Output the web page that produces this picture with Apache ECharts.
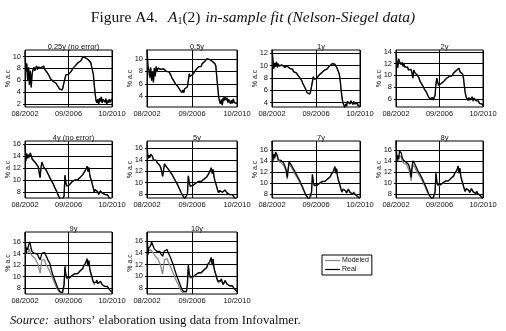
<!DOCTYPE html>
<html>
<head>
<meta charset="utf-8">
<script src="https://cdn.jsdelivr.net/npm/echarts@6/dist/echarts.min.js"></script>
<style>
html,body{margin:0;padding:0;background:#fff;}
#main{width:506px;height:331px;}
</style>
</head>
<body>
<div id="main"></div>
<script>
// monthly observations, 08/2002 .. 10/2010 (99 months)
var xTicks = [0, 49, 98];
var xTickLabels = ['08/2002', '09/2006', '10/2010'];

var panelTitles = ['0.25y (no error)', '0.5y', '1y', '2y', '4y (no error)', '5y', '7y', '8y', '9y', '10y'];
var yMins = [1.5, 2.3, 3.3, 4.6, 7.0, 7.3, 7.3, 7.3, 7.0, 7.0];
var yMaxs = [11.1, 11.4, 12.5, 14.3, 16.5, 17.3, 17.6, 17.6, 17.7, 17.5];
var yTicks = [
    [2, 4, 6, 8, 10], [4, 6, 8, 10], [4, 6, 8, 10, 12], [6, 8, 10, 12, 14],
    [8, 10, 12, 14, 16], [8, 10, 12, 14, 16], [8, 10, 12, 14, 16], [8, 10, 12, 14, 16],
    [8, 10, 12, 14, 16], [8, 10, 12, 14, 16]
];

var real025 = [10.8, 7.5, 8.8, 6.0, 8.2, 5.2, 7.6, 4.8, 7.0, 7.8,
    8.2, 7.6, 8.0, 8.4, 7.8, 8.2, 8.0, 8.5, 8.1, 8.3,
    8.0, 8.4, 7.9, 7.6, 7.8, 7.3, 7.0, 6.8, 6.5, 6.2,
    6.3, 6.0, 5.8, 5.9, 5.6, 5.5, 5.4, 5.0, 4.8, 4.5,
    4.2, 4.7, 4.4, 5.0, 5.1, 5.3, 6.9, 6.8, 7.2, 7.0,
    7.3, 7.1, 7.5, 7.8, 8.0, 8.2, 8.0, 8.5, 8.8, 8.6,
    9.0, 9.1, 8.9, 9.3, 9.6, 9.9, 9.7, 10.0, 9.8, 9.6,
    9.8, 9.5, 9.3, 9.4, 9.0, 8.8, 8.7, 7.0, 5.2, 3.8,
    2.6, 2.2, 2.8, 2.0, 3.0, 2.4, 3.2, 2.2, 2.8, 3.1,
    2.3, 2.9, 2.0, 2.6, 2.2, 2.8, 2.3, 2.6, 2.9];
var real05 = [11.5, 9.0, 8.2, 7.0, 8.6, 6.5, 8.0, 6.2, 8.5, 7.2,
    8.8, 8.0, 8.5, 8.2, 8.7, 8.3, 8.6, 8.2, 8.4, 8.1,
    8.3, 8.0, 8.2, 7.8, 7.9, 7.6, 7.4, 7.0, 6.8, 6.5,
    6.3, 6.0, 6.0, 5.8, 5.5, 5.3, 5.0, 4.8, 4.6, 5.0,
    4.6, 5.2, 5.0, 5.4, 5.5, 5.6, 7.6, 7.2, 7.5, 7.3,
    7.5, 7.4, 7.8, 8.2, 8.5, 8.4, 8.7, 8.9, 9.0, 8.8,
    9.2, 9.4, 9.2, 9.6, 9.9, 10.0, 9.8, 10.1, 9.9, 9.7,
    9.8, 9.6, 9.4, 9.5, 9.2, 8.8, 7.0, 5.5, 4.0, 3.2,
    2.8, 3.5, 2.6, 3.8, 3.3, 4.0, 3.4, 3.8, 3.0, 3.5,
    3.2, 2.8, 3.4, 2.9, 3.6, 3.0, 2.7, 3.2, 2.9];
var real1 = [12.6, 11.0, 9.5, 10.4, 9.8, 10.6, 9.7, 10.3, 9.9, 10.2,
    9.6, 10.1, 9.8, 10.2, 9.7, 10.0, 9.6, 9.9, 9.7, 9.8,
    9.5, 9.8, 9.3, 9.4, 9.0, 9.1, 8.7, 8.8, 8.5, 8.4,
    8.2, 8.0, 7.8, 7.6, 7.2, 7.0, 6.6, 6.3, 6.0, 5.6,
    5.3, 5.6, 5.4, 5.8, 5.7, 6.0, 8.2, 7.8, 8.0, 7.7,
    7.9, 8.1, 8.4, 8.3, 8.6, 8.8, 8.7, 9.0, 9.2, 9.1,
    9.3, 9.4, 9.6, 9.5, 9.9, 10.1, 10.0, 10.3, 10.2, 10.4,
    10.2, 10.0, 9.7, 9.5, 9.0, 8.6, 7.5, 6.0, 4.8, 4.0,
    3.6, 3.2, 3.8, 3.4, 4.2, 3.9, 4.4, 3.8, 4.3, 4.0,
    3.7, 4.2, 3.8, 4.0, 3.6, 3.9, 3.5, 3.7, 3.4];
var real2 = [14.0, 12.0, 11.3, 12.8, 12.3, 12.6, 11.8, 12.2, 11.5, 11.9,
    11.4, 11.7, 11.2, 11.4, 10.9, 11.2, 10.8, 11.0, 10.4, 9.5,
    10.9, 10.5, 10.7, 10.3, 10.0, 9.8, 9.5, 9.0, 8.8, 8.5,
    8.3, 8.0, 7.6, 7.4, 7.2, 6.9, 6.5, 6.3, 6.0, 6.1,
    5.9, 6.2, 5.8, 6.0, 6.6, 8.5, 9.5, 8.8, 8.3, 8.5,
    8.2, 8.6, 8.4, 8.8, 9.0, 8.9, 9.3, 9.5, 9.4, 9.6,
    9.8, 9.7, 10.0, 9.9, 10.2, 10.4, 10.3, 10.6, 10.8, 10.5,
    11.0, 11.2, 10.6, 10.9, 10.4, 10.2, 9.5, 8.2, 7.0, 6.3,
    6.0, 5.7, 6.2, 5.8, 6.0, 5.9, 6.3, 5.6, 6.1, 5.9,
    5.7, 5.9, 5.5, 5.6, 5.2, 5.4, 5.0, 5.1, 4.8];
var real4 = [16.0, 13.2, 14.4, 13.6, 14.2, 13.8, 14.5, 14.2, 13.5, 13.2,
    13.4, 13.0, 12.9, 12.6, 12.8, 12.2, 11.2, 10.4, 12.0, 13.0,
    12.6, 12.2, 12.4, 12.0, 11.6, 11.4, 11.0, 10.8, 10.4, 10.2,
    9.8, 9.6, 9.3, 9.0, 8.6, 8.4, 8.0, 7.6, 7.4, 7.0,
    6.9, 6.6, 6.8, 6.4, 7.3, 10.8, 9.6, 9.0, 8.8, 9.3,
    9.2, 9.5, 9.4, 9.7, 9.6, 9.8, 10.0, 9.9, 10.1, 10.0,
    10.3, 10.2, 10.4, 10.6, 10.5, 10.9, 11.2, 11.0, 11.6, 11.9,
    12.3, 11.4, 12.1, 10.8, 10.2, 9.8, 9.2, 8.6, 8.0, 8.4,
    8.2, 8.6, 8.0, 7.6, 7.8, 8.2, 8.0, 7.8, 8.1, 7.9,
    7.6, 7.8, 7.4, 7.5, 7.2, 7.0, 7.1, 6.8, 6.6];
var real5 = [17.0, 14.2, 14.8, 14.4, 15.0, 15.2, 14.6, 14.0, 14.3, 13.8,
    13.9, 13.5, 13.7, 13.4, 13.0, 12.6, 12.0, 11.1, 12.2, 13.3,
    13.0, 12.8, 12.9, 12.5, 12.2, 12.0, 11.7, 11.4, 11.2, 10.9,
    10.6, 10.3, 10.0, 9.7, 9.4, 9.0, 8.7, 8.3, 8.0, 7.7,
    7.5, 7.2, 7.4, 7.0, 8.0, 11.2, 10.0, 9.4, 9.2, 9.6,
    9.5, 9.8, 9.6, 9.9, 9.8, 10.0, 10.2, 10.1, 10.3, 10.2,
    10.5, 10.4, 10.6, 10.8, 10.7, 11.0, 11.3, 11.2, 11.8, 12.2,
    12.6, 11.6, 12.3, 11.0, 10.3, 9.8, 9.2, 8.6, 8.2, 8.6,
    8.5, 8.8, 8.3, 8.0, 8.3, 8.7, 8.5, 8.2, 8.4, 8.1,
    7.9, 8.2, 7.8, 7.9, 7.6, 7.4, 7.5, 7.2, 7.0];
var real7 = [17.6, 14.0, 15.2, 14.6, 15.6, 15.8, 15.0, 14.2, 14.4, 13.9,
    14.1, 13.8, 14.0, 13.6, 13.2, 12.8, 12.2, 11.0, 12.6, 13.8,
    13.6, 13.4, 13.2, 12.8, 12.5, 12.2, 12.0, 11.6, 11.4, 11.0,
    10.8, 10.4, 10.0, 9.7, 9.3, 8.9, 8.5, 8.1, 7.8, 7.6,
    7.3, 7.0, 7.4, 7.2, 8.3, 11.6, 10.2, 9.6, 9.3, 9.8,
    9.6, 9.9, 9.7, 10.0, 9.9, 10.1, 10.3, 10.2, 10.4, 10.3,
    10.6, 10.5, 10.8, 11.0, 10.9, 11.2, 11.6, 11.4, 12.0, 12.5,
    13.0, 11.8, 12.6, 11.2, 10.5, 10.0, 9.4, 8.8, 8.4, 8.9,
    8.8, 9.1, 8.6, 8.2, 8.5, 8.9, 8.7, 8.3, 8.6, 8.2,
    8.0, 8.4, 8.0, 8.1, 7.8, 7.6, 7.7, 7.4, 7.2];
var model7 = [17.2, 14.3, 14.9, 14.3, 15.2, 15.3, 14.6, 13.9, 14.0, 13.6,
    13.7, 13.4, 13.6, 13.2, 12.8, 12.4, 11.7, 10.7, 12.2, 13.4,
    13.2, 13.0, 12.8, 12.4, 12.1, 11.8, 11.6, 11.2, 11.0, 10.7,
    10.5, 10.1, 9.8, 9.5, 9.1, 8.7, 8.3, 8.0, 7.7, 7.5,
    7.2, 6.9, 7.3, 7.1, 8.2, 11.5, 10.1, 9.5, 9.2, 9.7,
    9.5, 9.8, 9.7, 9.9, 9.8, 10.0, 10.2, 10.2, 10.3, 10.3,
    10.5, 10.5, 10.7, 10.9, 10.9, 11.1, 11.5, 11.3, 11.9, 12.3,
    12.8, 11.7, 12.4, 11.1, 10.4, 9.9, 9.3, 8.8, 8.3, 8.8,
    8.7, 9.0, 8.6, 8.2, 8.4, 8.8, 8.6, 8.3, 8.5, 8.2,
    8.0, 8.3, 7.9, 8.0, 7.8, 7.6, 7.6, 7.4, 7.2];
var real8 = [17.8, 13.8, 15.0, 14.4, 15.8, 16.0, 15.4, 14.6, 14.2, 14.0,
    14.2, 13.8, 14.1, 13.6, 13.4, 12.9, 12.3, 11.0, 12.8, 14.0,
    13.8, 13.5, 13.2, 12.8, 12.5, 12.1, 11.9, 11.6, 11.3, 11.0,
    10.7, 10.3, 9.9, 9.6, 9.2, 8.8, 8.4, 8.0, 7.7, 7.5,
    7.2, 7.0, 7.3, 7.1, 8.4, 11.8, 10.3, 9.7, 9.4, 9.9,
    9.7, 10.0, 9.8, 10.1, 10.0, 10.2, 10.4, 10.3, 10.5, 10.4,
    10.7, 10.6, 10.9, 11.1, 11.0, 11.3, 11.8, 11.5, 12.2, 12.6,
    13.1, 11.8, 12.7, 11.2, 10.6, 10.1, 9.5, 8.9, 8.5, 9.0,
    8.9, 9.2, 8.7, 8.3, 8.6, 9.0, 8.8, 8.4, 8.7, 8.3,
    8.1, 8.5, 8.1, 8.2, 7.9, 7.7, 7.8, 7.4, 7.2];
var model8 = [17.2, 14.2, 14.6, 14.0, 15.0, 15.1, 14.6, 14.0, 13.7, 13.5,
    13.6, 13.2, 13.4, 12.9, 12.7, 12.2, 11.5, 10.4, 12.1, 13.3,
    13.1, 12.9, 12.6, 12.2, 11.9, 11.6, 11.4, 11.1, 10.8, 10.6,
    10.3, 9.9, 9.6, 9.3, 8.9, 8.5, 8.2, 7.8, 7.5, 7.3,
    7.0, 6.8, 7.1, 7.0, 8.2, 11.6, 10.2, 9.6, 9.3, 9.8,
    9.6, 9.9, 9.8, 10.0, 9.9, 10.1, 10.3, 10.3, 10.4, 10.4,
    10.6, 10.6, 10.8, 11.0, 11.0, 11.2, 11.6, 11.4, 12.0, 12.4,
    12.9, 11.8, 12.5, 11.1, 10.5, 10.0, 9.4, 8.9, 8.4, 8.9,
    8.8, 9.1, 8.7, 8.3, 8.5, 8.9, 8.7, 8.4, 8.6, 8.3,
    8.1, 8.4, 8.0, 8.1, 7.9, 7.7, 7.7, 7.4, 7.2];
var real9 = [17.6, 14.0, 15.0, 14.6, 15.4, 16.0, 15.6, 14.8, 14.3, 14.1,
    14.4, 14.0, 14.2, 13.8, 13.9, 13.5, 13.2, 12.9, 13.4, 14.0,
    14.3, 14.0, 14.2, 13.8, 13.6, 13.2, 12.8, 12.5, 12.3, 11.6,
    11.0, 10.5, 10.0, 9.6, 9.2, 8.8, 8.4, 8.0, 7.7, 7.5,
    7.3, 7.6, 7.2, 7.4, 8.6, 11.8, 10.4, 9.8, 9.5, 10.0,
    9.8, 10.1, 9.9, 10.2, 10.0, 10.3, 10.5, 10.4, 10.6, 10.5,
    10.8, 10.7, 11.0, 11.2, 11.1, 11.4, 11.9, 11.6, 12.3, 12.7,
    13.1, 11.8, 12.8, 11.3, 10.7, 10.2, 9.6, 9.0, 8.7, 9.2,
    9.0, 9.4, 8.8, 8.5, 8.8, 9.2, 9.0, 8.6, 8.9, 8.5,
    8.3, 8.6, 8.2, 8.3, 8.0, 7.8, 7.9, 7.5, 7.3];
var model9 = [17.0, 14.5, 14.6, 14.0, 14.4, 14.8, 14.0, 13.8, 13.6, 13.5,
    13.6, 13.2, 13.0, 12.6, 12.5, 12.0, 11.2, 10.6, 11.8, 12.9,
    13.0, 12.8, 12.9, 12.4, 12.0, 11.8, 11.5, 11.2, 10.9, 10.5,
    10.1, 9.7, 9.4, 9.0, 8.7, 8.3, 8.0, 7.7, 7.4, 7.3,
    7.1, 7.3, 7.0, 7.2, 8.3, 11.5, 10.2, 9.6, 9.3, 9.8,
    9.7, 10.0, 9.9, 10.1, 10.0, 10.2, 10.4, 10.4, 10.5, 10.5,
    10.7, 10.7, 10.9, 11.1, 11.1, 11.3, 11.7, 11.5, 12.1, 12.5,
    12.9, 11.8, 12.6, 11.2, 10.6, 10.1, 9.5, 9.0, 8.6, 9.1,
    8.9, 9.3, 8.8, 8.5, 8.7, 9.1, 8.9, 8.6, 8.8, 8.5,
    8.3, 8.5, 8.2, 8.2, 8.0, 7.8, 7.8, 7.5, 7.3];
var real10 = [17.4, 13.6, 14.8, 14.5, 15.2, 15.8, 15.5, 15.0, 14.6, 14.3,
    14.6, 14.2, 14.4, 14.0, 14.2, 13.8, 13.6, 13.4, 13.9, 14.3,
    14.6, 14.2, 14.5, 14.0, 13.8, 13.4, 13.0, 12.6, 12.4, 11.8,
    11.2, 10.7, 10.2, 9.8, 9.4, 9.0, 8.6, 8.2, 7.8, 7.6,
    7.4, 7.7, 7.3, 7.5, 8.8, 11.9, 10.5, 9.9, 9.6, 10.1,
    9.9, 10.2, 10.0, 10.3, 10.1, 10.4, 10.6, 10.5, 10.7, 10.6,
    10.9, 10.8, 11.1, 11.3, 11.2, 11.5, 12.0, 11.7, 12.4, 12.8,
    13.2, 11.9, 12.9, 11.4, 10.8, 10.3, 9.7, 9.2, 8.9, 9.4,
    9.2, 9.6, 9.0, 8.6, 8.9, 9.3, 9.1, 8.7, 9.0, 8.6,
    8.4, 8.7, 8.3, 8.4, 8.1, 7.9, 8.0, 7.6, 7.4];
var model10 = [16.8, 14.2, 14.3, 14.0, 14.5, 14.8, 14.2, 13.9, 13.6, 13.4,
    13.5, 13.1, 12.9, 12.5, 12.3, 11.8, 11.0, 10.4, 11.6, 12.8,
    13.1, 12.9, 13.0, 12.5, 12.1, 11.8, 11.5, 11.1, 10.8, 10.4,
    10.0, 9.6, 9.2, 8.9, 8.6, 8.2, 7.9, 7.6, 7.4, 7.3,
    7.1, 7.4, 7.1, 7.3, 8.5, 11.6, 10.3, 9.7, 9.4, 9.9,
    9.8, 10.1, 10.0, 10.2, 10.1, 10.3, 10.5, 10.5, 10.6, 10.6,
    10.8, 10.8, 11.0, 11.2, 11.2, 11.4, 11.8, 11.6, 12.2, 12.6,
    13.0, 11.9, 12.7, 11.3, 10.7, 10.2, 9.6, 9.2, 8.8, 9.3,
    9.1, 9.5, 9.0, 8.6, 8.8, 9.2, 9.0, 8.7, 8.9, 8.6,
    8.4, 8.6, 8.3, 8.3, 8.1, 7.9, 7.9, 7.6, 7.4];

// "no error" and short maturities: model sits on the data
var realSeries = [real025, real05, real1, real2, real4, real5, real7, real8, real9, real10];
var modelSeries = [real025, real05, real1, real2, real4, real5, model7, model8, model9, model10];

var colLeft = [25, 147, 272, 396];
var colWidth = [87, 90, 88, 87];
var rowTop = [50, 141, 232];
var rowHeight = [57, 57, 62];

var sansFont = 'Liberation Sans';
var serifFont = 'Liberation Serif';

function toPairs(arr){
    return arr.map(function(v, k){ return [k, v]; });
}

var grids = [], xAxes = [], yAxes = [], series = [];
var titles = [{
    left: 'center', top: 4,
    text: '{n|Figure A4.}  {i|A}{s|1}{n|(2)} {i|in-sample fit (Nelson-Siegel data)}',
    textStyle: {
        fontWeight: 'normal',
        rich: {
            n: {fontFamily: serifFont, fontSize: 15.5, fontWeight: 'normal', color: '#111'},
            i: {fontFamily: serifFont, fontSize: 15.5, fontWeight: 'normal', fontStyle: 'italic', color: '#111'},
            s: {fontFamily: serifFont, fontSize: 10, fontWeight: 'normal', color: '#111', padding: [6, 0, 0, 0]}
        }
    }
}, {
    left: 5, top: 307,
    text: '{i|Source:} {n|authors\u2019 elaboration using data from Infovalmer.}',
    textStyle: {
        fontWeight: 'normal',
        rich: {
            n: {fontFamily: serifFont, fontSize: 12.7, fontWeight: 'normal', color: '#111'},
            i: {fontFamily: serifFont, fontSize: 12.7, fontWeight: 'normal', fontStyle: 'italic', color: '#111'}
        }
    }
}];

for (var i = 0; i < panelTitles.length; i++) {
    var col = i % 4, row = Math.floor(i / 4);
    grids.push({
        left: colLeft[col], top: rowTop[row], width: colWidth[col], height: rowHeight[row],
        show: true, borderColor: '#000', borderWidth: 1, backgroundColor: '#fff'
    });
    titles.push({
        text: panelTitles[i],
        left: colLeft[col] + colWidth[col] / 2,
        top: rowTop[row] - 12,
        textAlign: 'center',
        textStyle: {fontFamily: sansFont, fontSize: 7.5, fontWeight: 'normal', color: '#111'}
    });
    xAxes.push({
        type: 'value', gridIndex: i, min: 0, max: 98,
        axisLine: {show: false},
        axisTick: {show: false, customValues: xTicks},
        axisLabel: {
            customValues: xTicks, margin: 3,
            fontFamily: sansFont, fontSize: 7.5, color: '#111',
            formatter: function(v){ return xTickLabels[xTicks.indexOf(v)]; }
        },
        splitLine: {show: true, lineStyle: {color: '#000', width: 1}}
    });
    yAxes.push({
        type: 'value', gridIndex: i, min: yMins[i], max: yMaxs[i],
        name: '% a.c', nameLocation: 'middle', nameGap: 13, nameRotate: 90,
        nameMoveOverlap: false,
        nameTextStyle: {fontFamily: sansFont, fontSize: 7, color: '#111'},
        axisLine: {show: false},
        axisTick: {show: true, length: 2, customValues: yTicks[i], lineStyle: {color: '#000'}},
        axisLabel: {customValues: yTicks[i], margin: 4, fontFamily: sansFont, fontSize: 7.5, color: '#111'},
        splitLine: {show: true, lineStyle: {color: '#000', width: 1}}
    });
    series.push({
        name: 'Modeled', type: 'line', xAxisIndex: i, yAxisIndex: i,
        data: toPairs(modelSeries[i]), showSymbol: false, animation: false, clip: true,
        lineStyle: {color: '#8a8a8a', width: 1.3}, itemStyle: {color: '#8a8a8a'}
    });
    series.push({
        name: 'Real', type: 'line', xAxisIndex: i, yAxisIndex: i,
        data: toPairs(realSeries[i]), showSymbol: false, animation: false, clip: true,
        lineStyle: {color: '#000', width: 1.3}, itemStyle: {color: '#000'}
    });
}

var chart = echarts.init(document.getElementById('main'), null, {renderer: 'canvas'});
chart.setOption({
    animation: false,
    backgroundColor: '#fff',
    title: titles,
    legend: {
        data: ['Modeled', 'Real'],
        orient: 'vertical', left: 322, top: 255,
        icon: 'rect', itemWidth: 15, itemHeight: 1.2, itemGap: 2,
        padding: [2, 3, 2, 3],
        borderColor: '#000', borderWidth: 1, borderRadius: 0,
        textStyle: {fontFamily: sansFont, fontSize: 7, color: '#111', padding: [0, 0, 0, -3]}
    },
    grid: grids,
    xAxis: xAxes,
    yAxis: yAxes,
    series: series
});
</script>
</body>
</html>
